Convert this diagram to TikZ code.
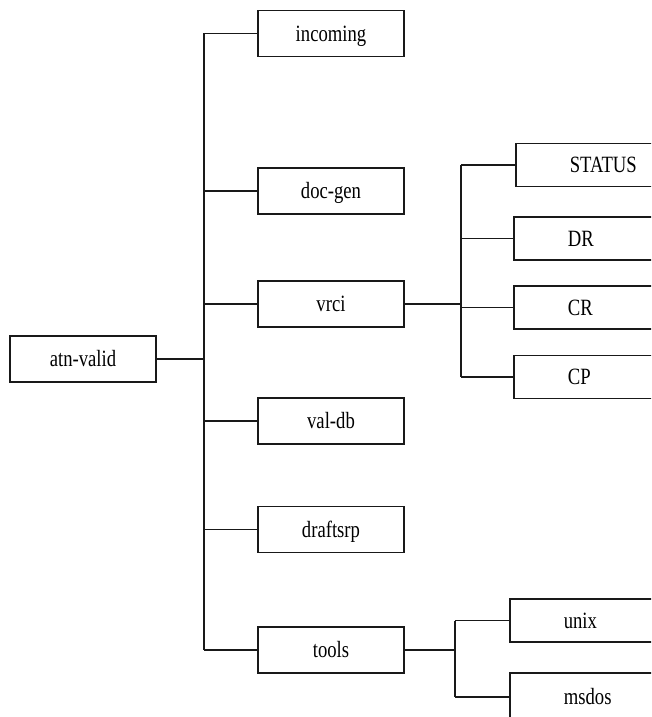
\documentclass[tikz,border=0pt]{standalone}
\usepackage{fontspec}
\setmainfont{Liberation Serif}[FakeStretch=0.8]
\begin{document}
\begin{tikzpicture}[x=0.75pt,y=-0.75pt,
    dn/.style={shape=rectangle,draw=black!90,line width=1.2pt,minimum width=109.5pt,minimum height=34.5pt,inner sep=0pt,text height=11.6pt,text depth=0pt,font=\fontsize{17.5}{19}\selectfont},
    ln/.style={dn,anchor=west,minimum height=32.5pt,text width=82pt,align=left,inner xsep=40.5pt},
    cn/.style={draw=black!90,line width=1pt}]
    \useasboundingbox (0,0) rectangle (651,717);
    \clip (0,0) rectangle (651,717);

    \node[dn] (root) at (83,359) {atn-valid};
    \node[dn] (incoming) at (331,33.5) {incoming};
    \node[dn] (docgen) at (331,191) {doc-gen};
    \node[dn] (vrci) at (331,304) {vrci};
    \node[dn] (valdb) at (331,421) {val-db};
    \node[dn] (draftsrp) at (331,529.5) {draftsrp};
    \node[dn] (tools) at (331,650) {tools};

    \node[ln] (status) at (515,165) {STATUS};
    \node[ln] (dr) at (513,238.5) {DR};
    \node[ln] (cr) at (513,307.5) {CR};
    \node[ln] (cp) at (513,377) {CP};
    \node[ln] (unix) at (509,620.5) {unix};
    \node[ln,minimum height=36pt] (msdos) at (509,697) {msdos};

    \coordinate (ta) at (204,0);
    \coordinate (tb) at (461,0);
    \coordinate (tc) at (455,0);

    \draw[cn] (incoming -| ta) -- (tools -| ta);
    \draw[cn] (root) -- (root -| ta);
    \foreach \n in {incoming,docgen,vrci,valdb,draftsrp,tools}
      \draw[cn] (\n -| ta) -- (\n);

    \draw[cn] (status -| tb) -- (cp -| tb);
    \draw[cn] (vrci) -- (vrci -| tb);
    \foreach \n in {status,dr,cr,cp}
      \draw[cn] (\n -| tb) -- (\n);

    \draw[cn] (unix -| tc) -- (msdos -| tc);
    \draw[cn] (tools) -- (tools -| tc);
    \foreach \n in {unix,msdos}
      \draw[cn] (\n -| tc) -- (\n);

  \end{tikzpicture}
\end{document}
